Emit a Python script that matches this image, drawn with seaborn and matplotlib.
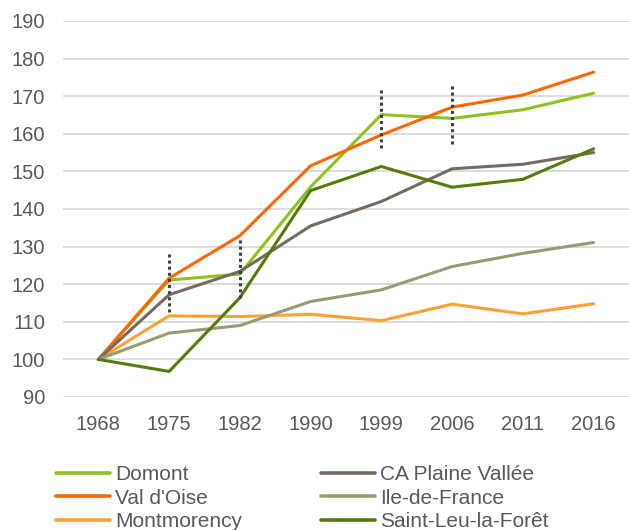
import pandas as pd
import matplotlib
matplotlib.use("Agg")
import matplotlib.pyplot as plt
import seaborn as sns

# --------------------------------------------------
# Data (index base 100 in 1968)
# --------------------------------------------------
years = ["1968", "1975", "1982", "1990", "1999", "2006", "2011", "2016"]

domont = [100, 121.1, 122.7, 145.9, 165.1, 164.1, 166.4, 170.8]
val_doise = [100, 121.6, 132.9, 151.5, 159.7, 167.1, 170.3, 176.4]
montmorency = [100, 111.6, 111.4, 112.0, 110.3, 114.7, 112.1, 114.8]
ca_plaine = [100, 117.2, 123.4, 135.5, 142.0, 150.7, 151.9, 155.0]
idf = [100, 107.0, 109.0, 115.4, 118.5, 124.7, 128.2, 131.1]
saint_leu = [100, 96.8, 116.4, 144.9, 151.3, 145.8, 147.9, 156.0]

series_names = ["Domont", "Val d'Oise", "Montmorency",
                "CA Plaine Vallée", "Ile-de-France", "Saint-Leu-la-Forêt"]
series_values = [domont, val_doise, montmorency, ca_plaine, idf, saint_leu]
colors = ["#8dc21f", "#ff6600", "#ffa033", "#766a5f", "#989a70", "#557c0a"]

# dotted markers (year, low, high)
mark_years = ["1975", "1982", "1999", "2006"]
mark_low = [112.6, 116.4, 156.3, 157.2]
mark_high = [128.4, 132.0, 171.9, 172.7]

y_ticks = list(range(90, 191, 10))

# --------------------------------------------------
# Build long table
# --------------------------------------------------
rows = []
for name, vals in zip(series_names, series_values):
    for yr, v in zip(years, vals):
        rows.append({"year": yr, "value": v, "serie": name})
df = pd.DataFrame(rows)

# --------------------------------------------------
# Plot
# --------------------------------------------------
sns.set_style("white")
plt.rcParams["font.family"] = ["Liberation Sans", "DejaVu Sans"]
text_color = "#595959"

fig = plt.figure(figsize=(6.29, 5.30), dpi=100)
ax = fig.add_axes([63 / 629, 1 - 397 / 530, 1 - 63 / 629, (397 - 21) / 530])

sns.lineplot(data=df, x="year", y="value", hue="serie",
             hue_order=series_names, palette=colors,
             linewidth=2.2, ax=ax, legend=False, sort=False)

pos = {y: i for i, y in enumerate(years)}
ax.vlines([pos[y] for y in mark_years], mark_low, mark_high,
          colors="#404040", linestyles=(0, (1, 1)), linewidth=2.2, zorder=5)

ax.set_xlim(-0.5, len(years) - 0.5)
ax.set_ylim(90, 190)
ax.set_yticks(y_ticks)
ax.set_xlabel("")
ax.set_ylabel("")
ax.yaxis.grid(True, color="#d9d9d9", linewidth=1.3)
ax.xaxis.grid(False)
ax.set_axisbelow(True)
for s in ax.spines.values():
    s.set_visible(False)
ax.tick_params(axis="both", length=0, labelsize=14.5, colors=text_color)
ax.tick_params(axis="y", pad=13)
ax.tick_params(axis="x", pad=13)

handles = [plt.Line2D([], [], color=c, linewidth=2.6) for c in colors]
fig.legend(handles, series_names, ncol=2, loc="upper left",
           bbox_to_anchor=(56 / 629, 1 - 465 / 530),
           frameon=False, fontsize=15, labelcolor=text_color,
           borderpad=0, borderaxespad=0, handlelength=2.6,
           handletextpad=0.25, columnspacing=3.75, labelspacing=0.22)

fig.savefig("out.png", dpi=100)
